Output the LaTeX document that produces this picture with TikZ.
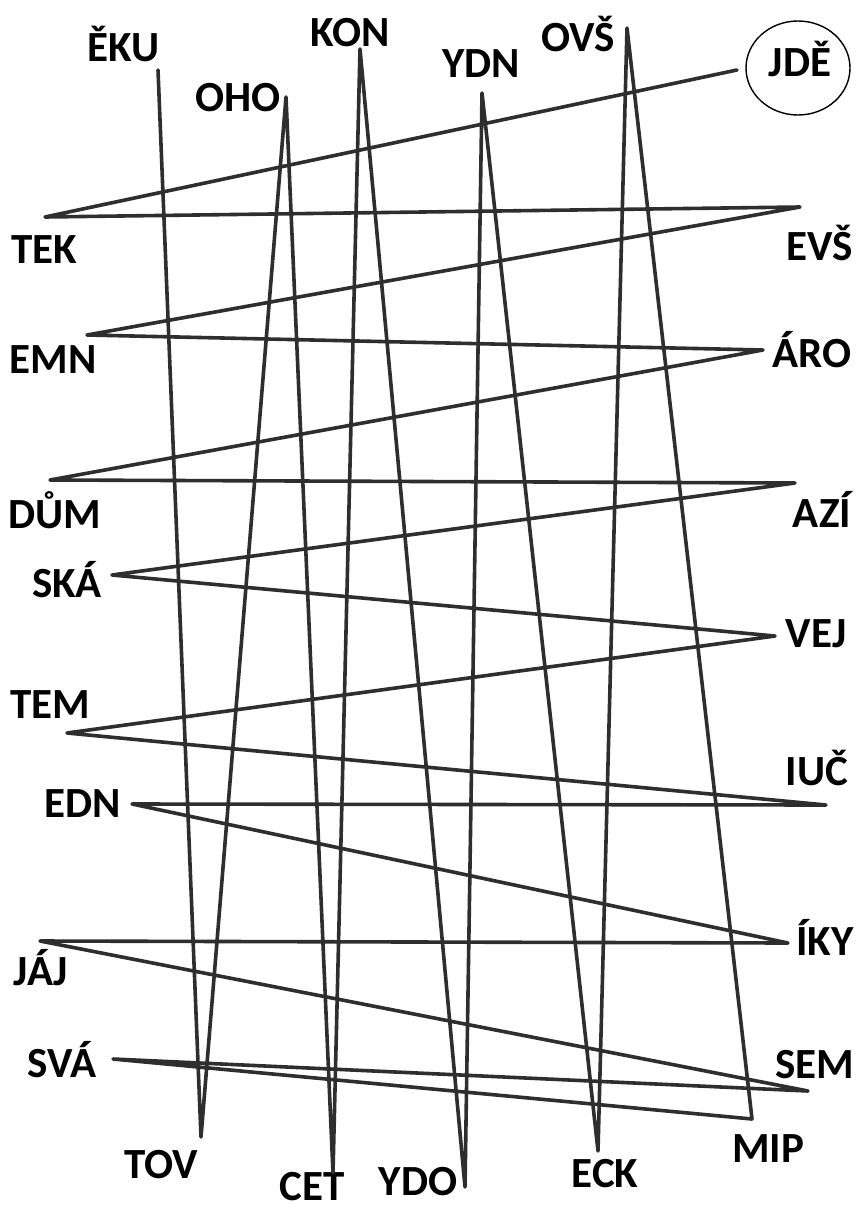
\documentclass[tikz,border=0pt]{standalone}
\usepackage{fontspec}
\setmainfont{Carlito}

\begin{document}
\begin{tikzpicture}[x=1pt, y=-1pt,
    wire/.style={draw=black!82, line width=3.6pt, line join=round, line cap=round},
    ring/.style={draw=black, line width=1.4pt},
    lbl/.style={anchor=base, inner sep=0pt, font=\fontsize{43}{43}\selectfont\bfseries}]
  \useasboundingbox (0,0) rectangle (856,1212);
  % turning points of the line
  \foreach \n/\x/\y in {start/737/70, tek/45/217, evs/800/207, emn/87/335,
      aro/763/350, dum/50/480, azi/795/483, ska/112/575, vej/775/636,
      tem/67/733, iuc/826/805, edn/132/804, iky/788/943, jaj/40/941,
      sem/808/1091, sva/113/1059, mip/752/1119, ovs/627/28, eck/598/1151,
      ydn/482/93, ydo/465/1187, kon/360/49, cet/333/1173, oho/286/97,
      tov/201/1137, eku/158/70}
    \coordinate (\n) at (\x,\y);
  % labels
  \foreach \n/\x/\y/\t in {eku/124/62/ĚKU, kon/350/47/KON, oho/238/112/OHO,
      ydn/481/78/YDN, ovs/578/52/OVŠ, jde/800/77/JDĚ, tek/44/263/TEK,
      evs/820/260/EVŠ, emn/53/373/EMN, aro/812/367/ÁRO, dum/55/528/DŮM,
      azi/822/527/AZÍ, ska/67/597/SKÁ, vej/816/647/VEJ, tem/50/718/TEM,
      iuc/817/785/IUČ, edn/83/817/EDN, iky/825/955/ÍKY, jaj/41/985/JÁJ,
      sva/62/1077/SVÁ, sem/815/1078/SEM, tov/161/1178/TOV, mip/768/1162/MIP,
      cet/312/1200/CET, ydo/418/1195/YDO, eck/605/1187/ECK}
    \node[lbl] (l\n) at (\x,\y) {\t};
  \draw[ring] (798,68) ellipse [x radius=52, y radius=47];
  % the one long line
  \draw[wire] (start) -- (tek) -- (evs) -- (emn) -- (aro) -- (dum) -- (azi)
    -- (ska) -- (vej) -- (tem) -- (iuc) -- (edn) -- (iky) -- (jaj) -- (sem)
    -- (sva) -- (mip) -- (ovs) -- (eck) -- (ydn) -- (ydo) -- (kon) -- (cet)
    -- (oho) -- (tov) -- (eku);
\end{tikzpicture}
\end{document}
